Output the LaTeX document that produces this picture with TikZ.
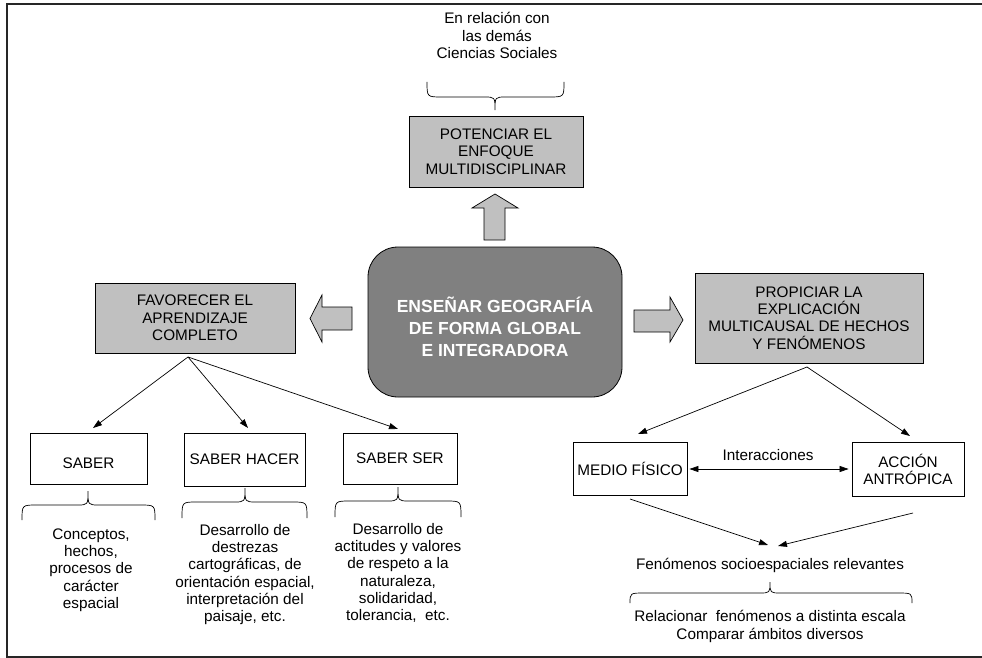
\documentclass[tikz,border=0pt]{standalone}
\usepackage{fontspec}
\setmainfont{Liberation Sans}
\usetikzlibrary{arrows.meta}
\newcommand{\mybrc}[6]{%
  \draw[bracestyle] (#1,#4) .. controls (#1,#5) .. (#1+15,#5) -- (#3-11,#5) .. controls (#3,#5) .. (#3,#6) .. controls (#3,#5) .. (#3+11,#5) -- (#2-15,#5) .. controls (#2,#5) .. (#2,#4);}
\tikzset{
  txt/.style={align=center, inner sep=0pt, font=\fontsize{15.3}{17.3}\selectfont},
  gbox/.style={txt, draw=black, line width=0.8pt, fill=lightbox},
  wbox/.style={txt, draw=black, line width=0.8pt, fill=white},
  conn/.style={line width=0.7pt, -{Triangle[length=9pt,width=6pt]}},
  dconn/.style={line width=0.7pt, {Triangle[length=9pt,width=6pt]}-{Triangle[length=9pt,width=6pt]}},
  blockarrow/.style={draw=black, line width=0.7pt, fill=lightbox},
  bracestyle/.style={line width=0.7pt},
  frame/.style={line width=1.3pt, draw=black!85}
}
\definecolor{lightbox}{HTML}{C0C0C0}
\definecolor{darkbox}{HTML}{808080}
\begin{document}
\begin{tikzpicture}[x=1pt,y=-1pt]
\useasboundingbox (0,0) rectangle (982,658);
% frame
\draw[frame] (982,4) -- (7,4) -- (7,657) -- (982,657);

% top
\node[txt] (rel) at (497,35.5) {En relación con\\las demás\\Ciencias Sociales};
\mybrc{427}{564}{495}{82}{97}{110}
\node[gbox, minimum width=174pt, minimum height=71pt] (pot) at (496,151.5) {POTENCIAR EL\\ENFOQUE\\MULTIDISCIPLINAR};
\draw[blockarrow] (484,240) -- (484,208) -- (472,208) -- (495,194) -- (518,208) -- (505,208) -- (505,240) -- cycle;

% center
\node[draw=black, line width=0.8pt, fill=darkbox, rounded corners=30pt, minimum width=254pt, minimum height=150pt, inner sep=0pt] (cen) at (495,322) {};
\node[align=center, text=white, font=\bfseries\fontsize{17.5}{21.8}\selectfont, inner sep=0pt] (cent) at (495,327) {ENSEÑAR GEOGRAFÍA\\DE FORMA GLOBAL\\E INTEGRADORA};

% side arrows
\draw[blockarrow] (352,307) -- (322,307) -- (322,295) -- (310,318.5) -- (322,342) -- (322,330) -- (352,330) -- cycle;
\draw[blockarrow] (634,310) -- (670,310) -- (670,297) -- (683,320) -- (670,342) -- (670,332) -- (634,332) -- cycle;

% left
\node[gbox, minimum width=200pt, minimum height=70pt] (fav) at (195,318) {FAVORECER EL\\APRENDIZAJE\\COMPLETO};
\node[wbox, minimum width=117pt, minimum height=51pt] (saber) at (88.5,458.5) {};
\node[txt] (sabl) at (88.5,463) {SABER};
\node[wbox, minimum width=121pt, minimum height=53pt] (hacer) at (244.5,459.5) {SABER HACER};
\node[wbox, minimum width=114pt, minimum height=51pt] (ser) at (400,458.5) {SABER SER};
\coordinate (favo) at (188,357);
\coordinate (t1) at (93,428);
\coordinate (t2) at (248,428);
\coordinate (t3) at (398,429);
\draw[conn] (favo) -- (t1);
\draw[conn] (favo) -- (t2);
\draw[conn] (favo) -- (t3);
\mybrc{22}{155}{88}{520}{505}{491}
\mybrc{182}{307}{245}{518}{502}{488}
\mybrc{335}{461}{398}{517}{501}{487}
\node[txt] (sabt) at (91,570) {Conceptos,\\hechos,\\procesos de\\carácter\\espacial};
\node[txt] (hact) at (245,574.5) {Desarrollo de\\destrezas\\cartográficas, de\\orientación espacial,\\interpretación del\\paisaje, etc.};
\node[txt] (sert) at (398,573) {Desarrollo de\\actitudes y valores\\de respeto a la\\naturaleza,\\solidaridad,\\tolerancia,\ \ etc.};

% right
\node[gbox, minimum width=228pt, minimum height=90pt] (prop) at (809,318) {PROPICIAR LA\\EXPLICACIÓN\\MULTICAUSAL DE HECHOS\\Y FENÓMENOS};
\node[wbox, minimum width=114pt, minimum height=53pt] (medio) at (630,469) {MEDIO FÍSICO};
\node[wbox, minimum width=112pt, minimum height=54pt] (acc) at (908,469.5) {ACCIÓN\\ANTRÓPICA};
\coordinate (propo) at (807,367);
\coordinate (m0) at (638,434);
\coordinate (a0) at (910,436);
\draw[conn] (propo) -- (m0);
\draw[conn] (propo) -- (a0);
\draw[dconn, shorten <=2pt, shorten >=3pt] (medio.east) -- (acc.west |- medio.east);
\node[txt] (inter) at (768,455) {Interacciones};
\coordinate (m1) at (630,499);
\coordinate (a1) at (913,513);
\coordinate (f1) at (768,545);
\coordinate (f2) at (778,546);
\draw[conn] (m1) -- (f1);
\draw[conn] (a1) -- (f2);
\node[txt] (fen) at (770,565) {Fenómenos socioespaciales relevantes};
\mybrc{630}{912}{770}{603}{593}{582}
\node[txt] (relac) at (770,626.5) {Relacionar\ \ fenómenos a distinta escala\\Comparar ámbitos diversos};
\end{tikzpicture}
\end{document}
